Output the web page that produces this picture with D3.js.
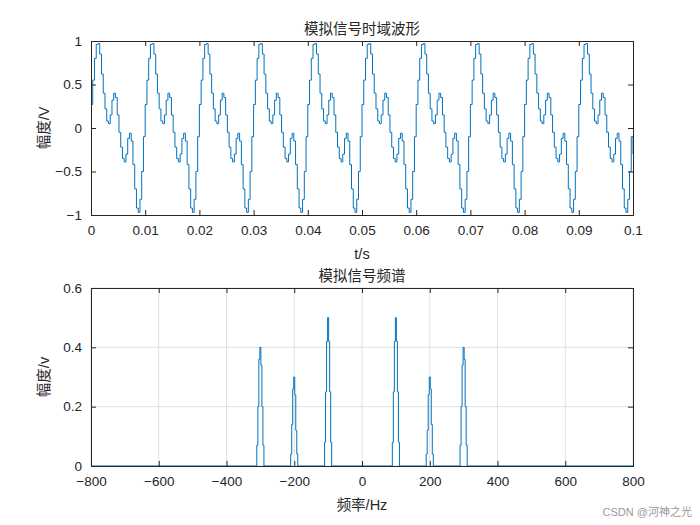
<!DOCTYPE html>
<html><head><meta charset="utf-8">
<script src="https://cdn.jsdelivr.net/npm/d3@7"></script>
<style>body{margin:0;background:#fff}text{font-family:"Liberation Sans",Arial,"Noto Sans CJK SC",sans-serif}</style>
</head><body><svg id="c" width="700" height="525"></svg>
<script>
const periodSamples = [0.27,0.55,0.8,0.96,0.97,0.85,0.62,0.4,0.22,0.08,0.05,0.15,0.32,0.4,0.35,0.15,-0.05,-0.22,-0.35,-0.39,-0.3,-0.12,-0.06,-0.15,-0.42,-0.7,-0.92,-0.97,-0.82,-0.5,-0.1]
const periods = 10
const peakFreqs = [-300,-200,-100,100,200,300]
const peakOffsets = [-9,-6,-3,0,3,6,9]
const peakHeights = {
  100: [0.08,0.25,0.42,0.5,0.42,0.25,0.08],
  200: [0.04,0.12,0.24,0.3,0.26,0.14,0.04],
  300: [0.07,0.2,0.34,0.4,0.36,0.2,0.07]
}
const xTicksTop = [0,0.01,0.02,0.03,0.04,0.05,0.06,0.07,0.08,0.09,0.1]
const yTicksTop = [-1,-0.5,0,0.5,1]
const xTicksBot = [-800,-600,-400,-200,0,200,400,600,800]
const yTicksBot = [0,0.2,0.4,0.6]

const svg = d3.select('#c'), blue = '#0072bd'
const dt = 0.01 / periodSamples.length
const sig = []
for (let p = 0; p < periods; p++) periodSamples.forEach((v, i) => sig.push([(p * periodSamples.length + i) * dt, v]))
sig.push([0.1, -0.3])

const spec = [[-800, 0]]
peakFreqs.forEach(f => {
  const h = peakHeights[Math.abs(f)]
  const hs = f < 0 ? h.slice().reverse() : h
  peakOffsets.forEach((o, i) => spec.push([f + o - 1.5, hs[i]]))
  spec.push([f + 10.5, 0])
})
spec.push([800, 0])

function panel(top, h, xd, yd, xt, yt, grid, title, xl, yl, data) {
  const L = 91, R = 633
  const x = d3.scaleLinear().domain(xd).range([L, R])
  const y = d3.scaleLinear().domain(yd).range([top + h, top])
  const g = svg.append('g')
  if (grid) {
    g.selectAll('.gx').data(xt).enter().append('line').attr('x1', d => x(d)).attr('x2', d => x(d))
      .attr('y1', top).attr('y2', top + h).attr('stroke', '#dfdfdf')
    g.selectAll('.gy').data(yt).enter().append('line').attr('y1', d => y(d)).attr('y2', d => y(d))
      .attr('x1', L).attr('x2', R).attr('stroke', '#dfdfdf')
  }
  g.append('path').datum(data).attr('fill', 'none').attr('stroke', blue).attr('stroke-width', 1)
    .attr('d', d3.line().x(d => x(d[0])).y(d => y(d[1])).curve(d3.curveStepAfter))
  g.append('g').attr('transform', `translate(0,${top + h})`)
    .call(d3.axisBottom(x).tickValues(xt).tickSize(-5).tickPadding(10).tickFormat(d3.format('')))
  g.append('g').attr('transform', `translate(${L},0)`)
    .call(d3.axisLeft(y).tickValues(yt).tickSize(-5).tickPadding(9).tickFormat(d3.format('')))
  g.append('g').attr('transform', `translate(0,${top})`).call(d3.axisTop(x).tickValues(xt).tickSize(-5).tickFormat(''))
  g.append('g').attr('transform', `translate(${R},0)`).call(d3.axisRight(y).tickValues(yt).tickSize(-5).tickFormat(''))
  g.selectAll('.domain').attr('stroke', '#262626')
  g.selectAll('.tick line').attr('stroke', '#262626')
  g.selectAll('.tick text').attr('font-size', 13.5).attr('fill', '#262626')
  g.append('text').attr('x', (L + R) / 2).attr('y', top - 7).attr('text-anchor', 'middle')
    .attr('font-size', 14.5).attr('fill', '#262626').text(title)
  g.append('text').attr('x', (L + R) / 2).attr('y', top + h + 44).attr('text-anchor', 'middle')
    .attr('font-size', 14.5).attr('fill', '#262626').text(xl)
  g.append('text').attr('transform', `translate(${L - 42},${top + h / 2}) rotate(-90)`).attr('text-anchor', 'middle')
    .attr('font-size', 14.5).attr('fill', '#262626').text(yl)
}
panel(41, 174, [0, 0.1], [-1, 1], xTicksTop, yTicksTop, false, '模拟信号时域波形', 't/s', '幅度/V', sig)
panel(288, 178, [-800, 800], [0, 0.6], xTicksBot, yTicksBot, true, '模拟信号频谱', '频率/Hz', '幅度/v', spec)
svg.append('text').attr('x', 692).attr('y', 516).attr('text-anchor', 'end').attr('font-size', 11)
  .attr('fill', '#999').text('CSDN @河神之光')
</script></body></html>
